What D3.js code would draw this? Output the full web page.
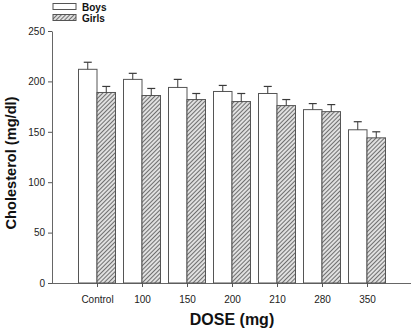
<!DOCTYPE html>
<html>
<head>
<meta charset="utf-8">
<script src="https://cdn.jsdelivr.net/npm/d3@7"></script>
<style>
  body { margin: 0; background: #fff; }
  svg { display: block; font-family: "Liberation Sans", Arial, sans-serif; }
</style>
</head>
<body>
<svg id="chart" width="411" height="331"></svg>
<script>
// dose groups and mean cholesterol (mg/dl) with standard error
var doses = ["Control", "100", "150", "200", "210", "280", "350"];
var boys = [212, 202, 194, 190, 188, 172, 152];
var boysErr = [7, 6, 8, 6, 7, 6, 8];
var girls = [189, 186, 182, 180, 176, 170, 144];
var girlsErr = [6, 7, 6, 8, 6, 7, 6];
var yTicks = [0, 50, 100, 150, 200, 250];

var svg = d3.select("#chart");

var margin = { left: 52, top: 31, bottom: 283, right: 411 };

// x runs over 8 slots, groups sit on 1..7
var x = d3.scaleLinear().domain([0, doses.length + 1]).range([margin.left, margin.left + 45 * (doses.length + 1)]);
var y = d3.scaleLinear().domain([0, 250]).range([margin.bottom, margin.top]);

var barW = 18.5;
var ink = "#3a3a3a";

// hatch for the girls bars
var defs = svg.append("defs");
defs.append("pattern")
    .attr("id", "hatch")
    .attr("patternUnits", "userSpaceOnUse")
    .attr("width", 3)
    .attr("height", 3)
    .attr("patternTransform", "rotate(45)")
    .call(function (p) {
        p.append("rect").attr("width", 3).attr("height", 3).attr("fill", "#e0e0e0");
        p.append("line").attr("x1", 0).attr("y1", 0).attr("x2", 0).attr("y2", 3)
            .attr("stroke", "#222").attr("stroke-width", 1.2);
    });

// y axis
var yAxis = svg.append("g")
    .attr("transform", "translate(" + margin.left + ",0)")
    .call(d3.axisLeft(y).tickValues(yTicks).tickSize(4).tickSizeOuter(0).tickPadding(3));

// x axis
var xAxis = svg.append("g")
    .attr("transform", "translate(0," + margin.bottom + ")")
    .call(d3.axisBottom(x).tickValues(d3.range(1, doses.length + 1))
        .tickFormat(function (d) { return doses[d - 1]; })
        .tickSize(4).tickSizeOuter(0).tickPadding(9));
xAxis.select(".domain").attr("d", "M" + margin.left + ",0.5H411");

[yAxis, xAxis].forEach(function (ax) {
    ax.select(".domain").attr("stroke", "#666");
    ax.selectAll(".tick line").attr("stroke", "#555");
    ax.selectAll(".tick text").attr("fill", "#222").style("font-size", "10px").style("font-family", "Liberation Sans, Arial, sans-serif");
});

// bars
var series = [
    { name: "Boys", vals: boys, err: boysErr, off: -barW, fill: "#fff" },
    { name: "Girls", vals: girls, err: girlsErr, off: 0, fill: "url(#hatch)" }
];

series.forEach(function (s) {
    var g = svg.append("g").attr("class", "series-" + s.name);
    g.selectAll("rect")
        .data(s.vals)
        .enter().append("rect")
        .attr("x", function (d, i) { return x(i + 1) + s.off; })
        .attr("y", function (d) { return y(d); })
        .attr("width", barW)
        .attr("height", function (d) { return y(0) - y(d); })
        .attr("fill", s.fill)
        .attr("stroke", "#555")
        .attr("stroke-width", 1);

    // upper error bars only
    var eb = g.selectAll(".err")
        .data(s.vals)
        .enter().append("g").attr("class", "err");
    eb.append("line")
        .attr("x1", function (d, i) { return x(i + 1) + s.off + barW / 2; })
        .attr("x2", function (d, i) { return x(i + 1) + s.off + barW / 2; })
        .attr("y1", function (d) { return y(d); })
        .attr("y2", function (d, i) { return y(d + s.err[i]); })
        .attr("stroke", ink).attr("stroke-width", 1);
    eb.append("line")
        .attr("x1", function (d, i) { return x(i + 1) + s.off + barW / 2 - 4; })
        .attr("x2", function (d, i) { return x(i + 1) + s.off + barW / 2 + 4; })
        .attr("y1", function (d, i) { return y(d + s.err[i]); })
        .attr("y2", function (d, i) { return y(d + s.err[i]); })
        .attr("stroke", ink).attr("stroke-width", 1.2);
});

// legend
var legend = svg.append("g").attr("transform", "translate(53,3)");
series.forEach(function (s, i) {
    var row = legend.append("g").attr("transform", "translate(0," + (i * 11) + ")");
    row.append("rect").attr("x", 0).attr("y", 0.5).attr("width", 23).attr("height", 6)
        .attr("fill", s.fill).attr("stroke", "#555");
    row.append("text").attr("x", 29).attr("y", 7.5)
        .style("font-size", "10px").style("font-weight", "bold").attr("fill", "#111")
        .text(s.name);
});

// axis titles
svg.append("text")
    .attr("transform", "translate(16,163) rotate(-90)")
    .attr("text-anchor", "middle")
    .style("font-size", "14.6px").style("font-weight", "bold").attr("fill", "#111")
    .text("Cholesterol (mg/dl)");

svg.append("text")
    .attr("x", 232).attr("y", 325)
    .attr("text-anchor", "middle")
    .style("font-size", "16px").style("font-weight", "bold").attr("fill", "#111")
    .text("DOSE (mg)");
</script>
</body>
</html>
